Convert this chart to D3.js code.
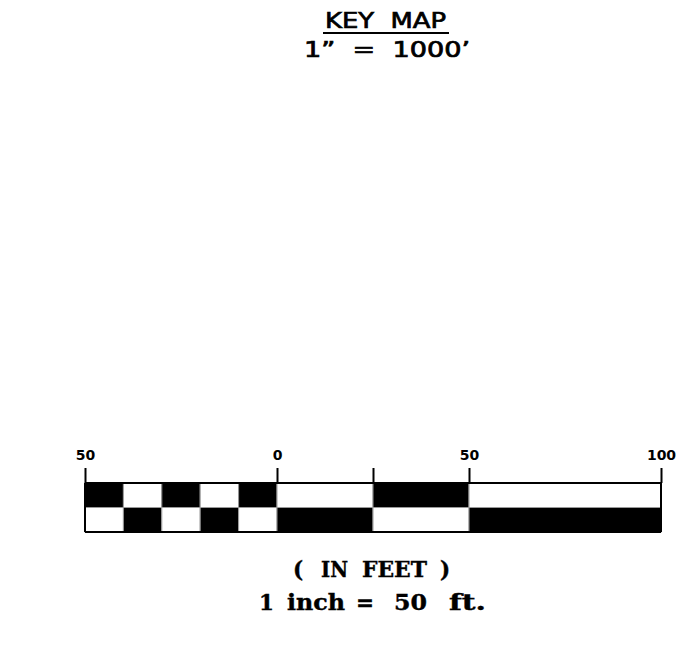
<!DOCTYPE html>
<meta charset="utf-8">
<style>
  body { margin: 0; background: #fff; }
</style>
<svg width="692" height="646"></svg>
<script src="https://cdn.jsdelivr.net/npm/d3@7"></script>
<script>

// scale bar data (feet)
var breaks = [-50, -40, -30, -20, -10, 0, 25, 50, 100];
var topFill = [1, 0, 1, 0, 1, 0, 1, 0];      // 1 = black
var bottomFill = [0, 1, 0, 1, 0, 1, 0, 1];
var tickValues = [-50, 0, 25, 50, 100];
var tickLabels = ["50", "0", "", "50", "100"];

// caption words: text, left edge, width
var caption1 = [["(", 293, 0], ["IN", 321, 27], ["FEET", 362, 65], [")", 440, 0]];
var caption2 = [["1", 259, 0], ["inch", 287, 58], ["=", 356, 0], ["50", 394, 33], ["ft.", 449, 37]];

var svg = d3.select("svg"),
    width = +svg.attr("width"),
    height = +svg.attr("height");

var x = d3.scaleLinear().domain([-50, 100]).range([85, 661]);

var barTop = 483, rowH = 24.5;

// title
svg.append("text")
    .attr("x", 325).attr("y", 28)
    .attr("textLength", 121)
    .attr("lengthAdjust", "spacingAndGlyphs")
    .attr("stroke", "#000").attr("stroke-width", 0.7)
    .style("font-family", "DejaVu Sans")
    .style("font-size", "20.5px")
    .style("white-space", "pre")
    .text("KEY  MAP");
svg.append("line")
    .attr("x1", 323).attr("x2", 449)
    .attr("y1", 33).attr("y2", 33)
    .attr("stroke", "#000").attr("stroke-width", 2);
svg.append("text")
    .attr("x", 304).attr("y", 57)
    .attr("textLength", 166)
    .attr("lengthAdjust", "spacingAndGlyphs")
    .attr("stroke", "#000").attr("stroke-width", 0.7)
    .style("font-family", "DejaVu Sans")
    .style("font-size", "20.5px")
    .style("white-space", "pre")
    .text("1\u201d  =  1000\u2019");

// cells
var segs = d3.range(breaks.length - 1).map(function(i) {
  return { x0: breaks[i], x1: breaks[i + 1], top: topFill[i], bottom: bottomFill[i] };
});

svg.selectAll("rect.top").data(segs).enter().append("rect")
    .attr("class", "top")
    .attr("x", function(d) { return x(d.x0); })
    .attr("y", barTop)
    .attr("width", function(d) { return x(d.x1) - x(d.x0); })
    .attr("height", rowH)
    .attr("fill", function(d) { return d.top ? "#000" : "#fff"; })
    .attr("stroke", "#999").attr("stroke-width", 1);

svg.selectAll("rect.bottom").data(segs).enter().append("rect")
    .attr("class", "bottom")
    .attr("x", function(d) { return x(d.x0); })
    .attr("y", barTop + rowH)
    .attr("width", function(d) { return x(d.x1) - x(d.x0); })
    .attr("height", rowH)
    .attr("fill", function(d) { return d.bottom ? "#000" : "#fff"; })
    .attr("stroke", "#999").attr("stroke-width", 1);

// outer lines
svg.append("line")
    .attr("x1", x(-50)).attr("x2", x(100))
    .attr("y1", barTop).attr("y2", barTop)
    .attr("stroke", "#000").attr("stroke-width", 2);
svg.append("line")
    .attr("x1", x(-50)).attr("x2", x(100))
    .attr("y1", barTop + 2 * rowH).attr("y2", barTop + 2 * rowH)
    .attr("stroke", "#000").attr("stroke-width", 2);
[-50, 100].forEach(function(v) {
  svg.append("line")
      .attr("x1", x(v)).attr("x2", x(v))
      .attr("y1", barTop).attr("y2", barTop + 2 * rowH)
      .attr("stroke", "#000").attr("stroke-width", 2);
});

// ticks
var axis = d3.axisTop(x)
    .tickValues(tickValues)
    .tickSize(15)
    .tickFormat(function(d, i) { return tickLabels[i]; });

var g = svg.append("g")
    .attr("transform", "translate(0," + barTop + ")")
    .call(axis);
g.select(".domain").remove();
g.selectAll(".tick line").attr("stroke", "#000").attr("stroke-width", 2);
g.selectAll(".tick text")
    .attr("y", -23)
    .attr("dy", 0)
    .attr("fill", "#000")
    .style("font-family", "DejaVu Sans")
    .style("font-weight", "bold")
    .style("font-size", "14px");

// captions
function caption(words, y) {
  svg.selectAll(null).data(words).enter().append("text")
      .attr("x", function(d) { return d[1]; })
      .attr("y", y)
      .attr("textLength", function(d) { return d[2] || null; })
      .attr("lengthAdjust", "spacingAndGlyphs")
      .attr("stroke", "#000").attr("stroke-width", 0.4)
      .style("font-family", "DejaVu Serif")
      .style("font-weight", "bold")
      .style("font-size", "21.5px")
      .text(function(d) { return d[0]; });
}
caption(caption1, 577);
caption(caption2, 610);

</script>
